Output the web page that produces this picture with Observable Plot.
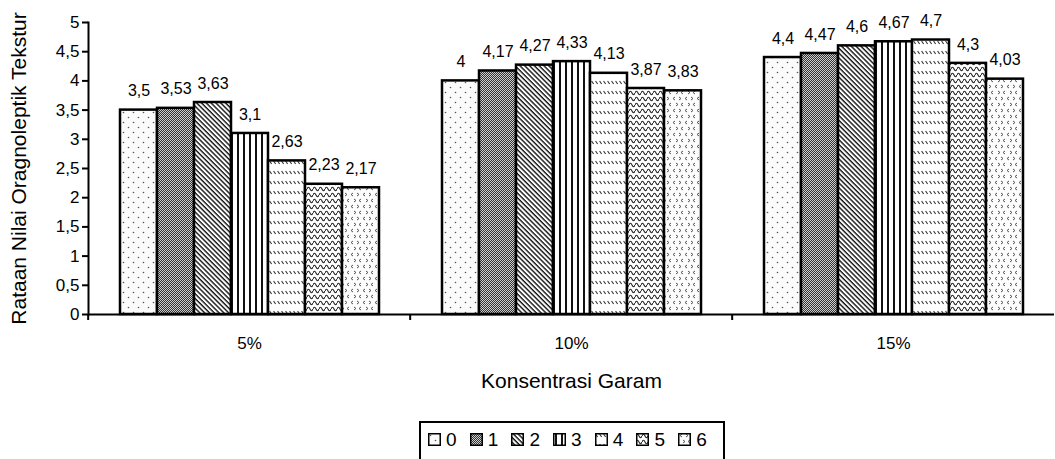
<!DOCTYPE html>
<html>
<head>
<meta charset="utf-8">
<script src="https://cdn.jsdelivr.net/npm/d3@7"></script>
<script src="https://cdn.jsdelivr.net/npm/@observablehq/plot@0.6"></script>
<style>
  html, body { margin: 0; padding: 0; background: #fff; }
  body { width: 1055px; height: 459px; overflow: hidden; font-family: "Liberation Sans", Arial, sans-serif; }
  #chart svg { display: block; }
  #legend {
    position: absolute; left: 419px; top: 421px;
    width: 302px; height: 44px;
    border: 2px solid #000; box-sizing: content-box;
  }
  #legend .items { display: flex; margin-left: 7px; margin-top: 7px; }
  #legend .item { display: flex; align-items: center; width: 41.7px; font-size: 19px; line-height: 19px; color: #000; }
  #legend .item svg { display: block; margin-right: 5px; }
</style>
</head>
<body>
<!-- Fill patterns shared by the bars and the legend swatches -->
<svg width="0" height="0" style="position:absolute">
  <defs>
    <pattern id="pat0" patternUnits="userSpaceOnUse" width="10" height="10">
      <rect width="10" height="10" fill="#fbfbfb"/>
      <circle cx="2.5" cy="2.5" r="0.8" fill="#555"/>
      <circle cx="7.5" cy="7.5" r="0.8" fill="#555"/>
    </pattern>
    <pattern id="pat1" patternUnits="userSpaceOnUse" width="2" height="2">
      <rect width="2" height="2" fill="#cfcfcf"/>
      <rect width="1" height="1" fill="#333"/>
      <rect x="1" y="1" width="1" height="1" fill="#333"/>
    </pattern>
    <pattern id="pat2" patternUnits="userSpaceOnUse" width="3.4" height="3.4" patternTransform="rotate(-45)">
      <rect width="3.4" height="3.4" fill="#fff"/>
      <line x1="1" y1="0" x2="1" y2="3.4" stroke="#111" stroke-width="1.4"/>
    </pattern>
    <pattern id="pat3" patternUnits="userSpaceOnUse" width="6" height="6">
      <rect width="6" height="6" fill="#fff"/>
      <line x1="3" y1="0" x2="3" y2="6" stroke="#111" stroke-width="2"/>
    </pattern>
    <pattern id="pat4" patternUnits="userSpaceOnUse" width="4" height="10">
      <rect width="4" height="10" fill="#fff"/>
      <line x1="0.6" y1="1" x2="2.6" y2="4" stroke="#333" stroke-width="1.1"/>
    </pattern>
    <pattern id="pat5" patternUnits="userSpaceOnUse" width="6" height="6">
      <rect width="6" height="6" fill="#fff"/>
      <path d="M0,3 C1,0.6 2,0.6 3,3 C4,5.4 5,5.4 6,3" fill="none" stroke="#222" stroke-width="1.1"/>
    </pattern>
    <pattern id="pat6" patternUnits="userSpaceOnUse" width="12" height="12">
      <rect width="12" height="12" fill="#fcfcfc"/>
      <path d="M4,1 L2,2.5 L4,4" fill="none" stroke="#555" stroke-width="1"/>
      <path d="M8,1 L10,2.5 L8,4" fill="none" stroke="#555" stroke-width="1"/>
      <path d="M5,7 L7,8.5 L5,10" fill="none" stroke="#555" stroke-width="1"/>
      <path d="M12,7 L10,8.5 L12,10" fill="none" stroke="#555" stroke-width="1"/>
    </pattern>
  </defs>
</svg>
<div id="chart"></div>
<div id="legend"><div class="items"></div></div>
<script>
// Salt concentration groups and treatment series
const groups = ["5%", "10%", "15%"];
const series = ["0", "1", "2", "3", "4", "5", "6"];

// Mean organoleptic texture scores per treatment, one array per salt concentration
const garam5 = [3.5, 3.53, 3.63, 3.1, 2.63, 2.23, 2.17];
const garam10 = [4, 4.17, 4.27, 4.33, 4.13, 3.87, 3.83];
const garam15 = [4.4, 4.47, 4.6, 4.67, 4.7, 4.3, 4.03];

// Y axis tick values
const yTicks = [0, 0.5, 1, 1.5, 2, 2.5, 3, 3.5, 4, 4.5, 5];

const yTitle = "Rataan Nilai Oragnoleptik Tekstur";
const xTitle = "Konsentrasi Garam";

const byGroup = [garam5, garam10, garam15];
const data = groups.flatMap((g, gi) =>
  byGroup[gi].map((v, i) => ({group: g, series: series[i], value: v}))
);

// Decimal comma, as used in the labels
const fmt = (v) => String(v).replace(".", ",");

const width = 1055;
const marginLeft = 87;
const marginRight = 0;
const bandWidth = (width - marginLeft - marginRight) / groups.length;

const chart = Plot.plot({
  width,
  height: 415,
  marginLeft,
  marginRight,
  marginTop: 22,
  marginBottom: 101,
  style: {fontFamily: "'Liberation Sans', Arial, sans-serif", color: "#000", background: "#fff", overflow: "visible"},
  fx: {domain: groups, padding: 0},
  x: {domain: series, paddingInner: 0, paddingOuter: 0.75, axis: null},
  y: {domain: [0, 5]},
  color: {type: "identity"},
  marks: [
    Plot.barY(data, {
      fx: "group", x: "series", y: "value",
      fill: (d) => `url(#pat${d.series})`,
      stroke: "#000", strokeWidth: 2.5
    }),
    Plot.text(data, {
      fx: "group", x: "series", y: "value",
      text: (d) => fmt(d.value),
      dy: -19, fontSize: 16, fill: "#000"
    }),
    Plot.ruleY([0], {stroke: "#000", strokeWidth: 2}),
    Plot.frame({anchor: "left", facetAnchor: "left", stroke: "#000", strokeWidth: 2}),
    Plot.axisY({
      ticks: yTicks, tickFormat: fmt, tickSize: 6, tickPadding: 3,
      fontSize: 17, strokeWidth: 2, label: null
    }),
    // Category labels at the centre of each group
    Plot.axisFx({anchor: "bottom", tickSize: 0, tickPadding: 22, fontSize: 17, label: null}),
    // Tick marks on the boundaries between groups
    Plot.axisFx({anchor: "bottom", tickSize: 6, tickFormat: null, label: null, dx: -bandWidth / 2, strokeWidth: 2}),
    // Axis titles
    Plot.text([yTitle], {
      fx: () => groups[0], frameAnchor: "left", rotate: -90,
      textAnchor: "middle", lineAnchor: "middle", dx: -69, fontSize: 21, fill: "#000"
    }),
    Plot.text([xTitle], {
      fx: () => groups[1], frameAnchor: "bottom",
      textAnchor: "middle", lineAnchor: "middle", dy: 67, fontSize: 21, fill: "#000"
    })
  ]
});

document.getElementById("chart").append(chart);

// Legend: patterned swatch followed by the treatment name
const items = d3.select("#legend .items");
for (const s of series) {
  const item = items.append("div").attr("class", "item");
  const sw = item.append("svg").attr("width", 13).attr("height", 13);
  sw.append("rect")
    .attr("x", 0.75).attr("y", 0.75).attr("width", 11.5).attr("height", 11.5)
    .attr("fill", `url(#pat${s})`).attr("stroke", "#000").attr("stroke-width", 1.5);
  item.append("span").text(s);
}
</script>
</body>
</html>
